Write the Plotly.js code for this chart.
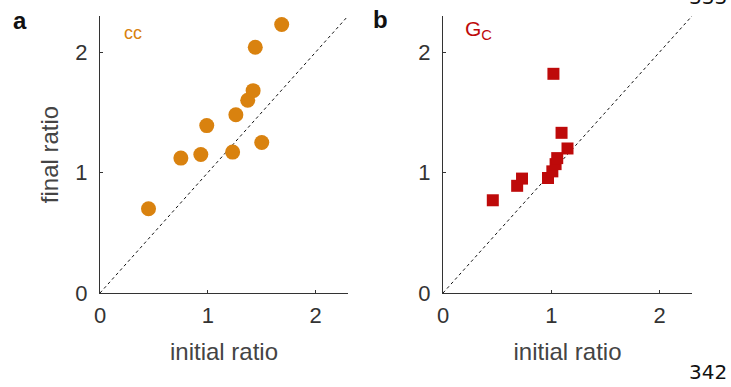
<!DOCTYPE html>
<html>
<head>
<meta charset="utf-8">
<script src="https://cdn.plot.ly/plotly-3.0.1.min.js"></script>
<style>html,body{margin:0;padding:0;background:#fff;}#plot{width:731px;height:387px;}</style>
</head>
<body>
<div id="plot"></div>
<script>
// Panel a: cc
const ccInitial = [0.45, 0.75, 0.935, 0.99, 1.23, 1.26, 1.37, 1.42, 1.50, 1.44, 1.685];
const ccFinal   = [0.70, 1.12, 1.15, 1.39, 1.17, 1.48, 1.60, 1.68, 1.25, 2.04, 2.23];
// Panel b: Gc
const gcInitial = [0.46, 0.685, 0.73, 0.97, 1.01, 1.04, 1.055, 1.095, 1.15, 1.02];
const gcFinal   = [0.77, 0.89, 0.95, 0.955, 1.01, 1.07, 1.12, 1.33, 1.20, 1.82];
const identity = [0, 2.3];
const tickVals = [0, 1, 2];
const tickText = ['0', '1', '2'];

const orange = '#D9820F';
const red = '#BE0A0A';
const W = 731, H = 387;
const fx = p => p / W, fy = p => 1 - p / H;
const FONT = 'Arial, "Liberation Sans", sans-serif';

const traces = [
  {x: identity, y: identity, xaxis: 'x', yaxis: 'y', mode: 'lines', line: {color: '#111', dash: 'dot', width: 1}, hoverinfo: 'skip'},
  {x: ccInitial, y: ccFinal, xaxis: 'x', yaxis: 'y', mode: 'markers', marker: {symbol: 'circle', size: 15, color: orange, line: {width: 0}}},
  {x: identity, y: identity, xaxis: 'x2', yaxis: 'y2', mode: 'lines', line: {color: '#111', dash: 'dot', width: 1}, hoverinfo: 'skip'},
  {x: gcInitial, y: gcFinal, xaxis: 'x2', yaxis: 'y2', mode: 'markers', marker: {symbol: 'square', size: 12, color: red, line: {width: 0}}}
];

const tickFont = {family: FONT, size: 22, color: '#333'};
const titleFont = {family: FONT, size: 24, color: '#444'};
function ax(domain, anchor, titleText, standoff, isX) {
  const a = {
    domain: domain, anchor: anchor, range: [0, 2.3], tickvals: tickVals, ticktext: tickText,
    showgrid: false, zeroline: false, showline: true, linecolor: '#333', linewidth: 1,
    ticks: 'inside', ticklen: 3, tickcolor: '#333', tickfont: tickFont,
    ticklabelstandoff: isX ? 3 : 7,
    fixedrange: true
  };
  if (titleText) a.title = {text: titleText, font: titleFont, standoff: standoff};
  return a;
}

const layout = {
  width: W, height: H, showlegend: false,
  paper_bgcolor: '#fff', plot_bgcolor: '#fff',
  margin: {l: 0, r: 0, t: 0, b: 0},
  xaxis: ax([fx(100), fx(348)], 'y', 'initial ratio', 15, true),
  yaxis: ax([fy(293), fy(16)], 'x', 'final ratio', 9, false),
  xaxis2: ax([fx(443), fx(692)], 'y2', 'initial ratio', 15, true),
  yaxis2: ax([fy(293), fy(16)], 'x2', '', 0, false),
  annotations: [
    {xref: 'paper', yref: 'paper', x: fx(20), y: fy(21), xanchor: 'center', yanchor: 'middle', text: '<b>a</b>', showarrow: false, font: {family: FONT, size: 24, color: '#111'}},
    {xref: 'paper', yref: 'paper', x: fx(380), y: fy(19), xanchor: 'center', yanchor: 'middle', text: '<b>b</b>', showarrow: false, font: {family: FONT, size: 24, color: '#111'}},
    {xref: 'paper', yref: 'paper', x: fx(133), y: fy(33), xanchor: 'center', yanchor: 'middle', text: 'cc', showarrow: false, font: {family: FONT, size: 18, color: orange}},
    {xref: 'paper', yref: 'paper', x: fx(478), y: fy(30), xanchor: 'center', yanchor: 'middle', text: 'G<sub>C</sub>', showarrow: false, font: {family: FONT, size: 21, color: red}},
    {xref: 'paper', yref: 'paper', x: fx(708), y: fy(372), xanchor: 'center', yanchor: 'middle', text: '342', showarrow: false, font: {family: '"DejaVu Sans", sans-serif', size: 20, color: '#111'}},
    {xref: 'paper', yref: 'paper', x: fx(708), y: fy(11), xanchor: 'center', yanchor: 'bottom', text: '333', showarrow: false, font: {family: '"DejaVu Sans", sans-serif', size: 20, color: '#111'}}
  ]
};

Plotly.newPlot('plot', traces, layout, {displayModeBar: false, staticPlot: true});
</script>
</body>
</html>
